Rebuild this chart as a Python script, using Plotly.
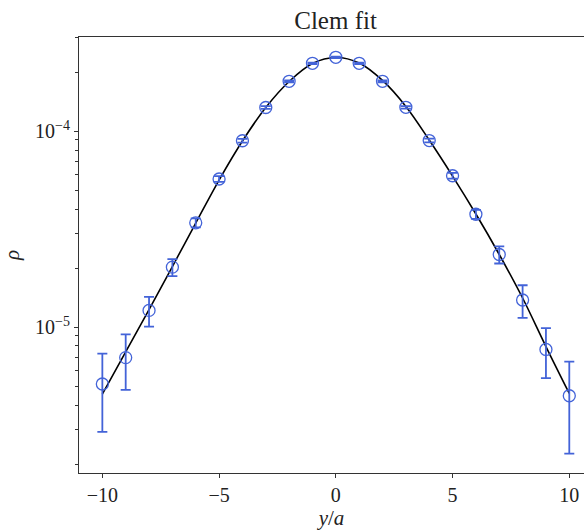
import plotly.graph_objects as go

# data
y_pos = [-10, -9, -8, -7, -6, -5, -4, -3, -2, -1, 0, 1, 2, 3, 4, 5, 6, 7, 8, 9, 10]
rho = [5.12e-6, 6.98e-6, 1.215e-5, 2.02e-5, 3.40e-5, 5.69e-5, 8.92e-5, 1.318e-4, 1.793e-4,
       2.215e-4, 2.377e-4, 2.215e-4, 1.793e-4, 1.321e-4, 8.94e-5, 5.91e-5, 3.76e-5,
       2.344e-5, 1.373e-5, 7.68e-6, 4.46e-6]
rho_err = [2.2e-6, 2.2e-6, 2.1e-6, 2.0e-6, 1.8e-6, 1.9e-6, 2.0e-6, 2.0e-6, 2.0e-6, 2.0e-6,
           2.0e-6, 2.0e-6, 2.0e-6, 2.0e-6, 2.0e-6, 2.0e-6, 2.0e-6, 2.36e-6, 2.6e-6,
           2.2e-6, 2.2e-6]

fit_x = [-10, -9, -8, -7, -6, -5, -4, -3, -2, -1, 0, 1, 2, 3, 4, 5, 6, 7, 8, 9, 10]
fit_rho = [4.55e-6, 7.46e-6, 1.228e-5, 2.035e-5, 3.393e-5, 5.62e-5, 8.89e-5, 1.318e-4,
           1.789e-4, 2.210e-4, 2.371e-4, 2.223e-4, 1.811e-4, 1.334e-4, 8.99e-5, 5.89e-5,
           3.771e-5, 2.344e-5, 1.406e-5, 7.95e-6, 4.58e-6]

x_ticks = [-10, -5, 0, 5, 10]
x_tick_text = ["\u221210", "\u22125", "0", "5", "10"]
y_ticks = [1e-5, 1e-4]
y_tick_text = ["10<sup>\u22125</sup>", "10<sup>\u22124</sup>"]
y_minor = [2e-6, 3e-6, 4e-6, 5e-6, 6e-6, 7e-6, 8e-6, 9e-6,
           2e-5, 3e-5, 4e-5, 5e-5, 6e-5, 7e-5, 8e-5, 9e-5, 2e-4, 3e-4]

BLUE = "#4363d8"
FONT = "Liberation Serif"

fig = go.Figure()
fig.add_trace(go.Scatter(
    x=fit_x, y=fit_rho, mode="lines", line=dict(color="black", width=1.6, shape="spline"),
    showlegend=False))
fig.add_trace(go.Scatter(
    x=y_pos, y=rho, mode="markers",
    marker=dict(symbol="circle-open", size=12, color=BLUE, line=dict(width=1.3, color=BLUE)),
    error_y=dict(type="data", array=rho_err, visible=True, color=BLUE, thickness=1.8, width=5),
    showlegend=False))

fig.update_layout(
    width=584, height=530,
    margin=dict(l=79, r=0, t=37, b=57),
    paper_bgcolor="white", plot_bgcolor="white",
    font=dict(family=FONT, size=20, color="#222"),
    title=dict(text="Clem fit", x=0.508, xanchor="center", xref="paper",
               y=1 - 20 / 530, yanchor="middle", yref="container",
               font=dict(family=FONT, size=25, color="#222")),
    xaxis=dict(range=[-11, 10.63], tickvals=x_ticks, ticktext=x_tick_text,
               showgrid=False, zeroline=False, showline=True, linecolor="#333", linewidth=1.2,
               mirror=True, ticks="outside", ticklen=4, tickcolor="#333", tickwidth=1,
               title=dict(text="<i>y</i>/<i>a</i>", standoff=4, font=dict(size=21))),
    yaxis=dict(type="log", range=[-5.7449, -3.5204], tickvals=y_ticks, ticktext=y_tick_text,
               showgrid=False, zeroline=False, showline=True, linecolor="#333", linewidth=1.2,
               mirror=False, ticks="outside", ticklen=4, tickcolor="#333", tickwidth=1,
               minor=dict(tickvals=y_minor, ticks="outside", ticklen=2.5, tickcolor="#333",
                          tickwidth=0.8, showgrid=False),
               title=dict(text="<i>\u03c1</i>", standoff=10, font=dict(size=21))),
)

fig.write_html(
    "out.html",
    config={"displayModeBar": False},
    post_script="document.body.style.margin='0';document.body.style.overflow='hidden';",
)
